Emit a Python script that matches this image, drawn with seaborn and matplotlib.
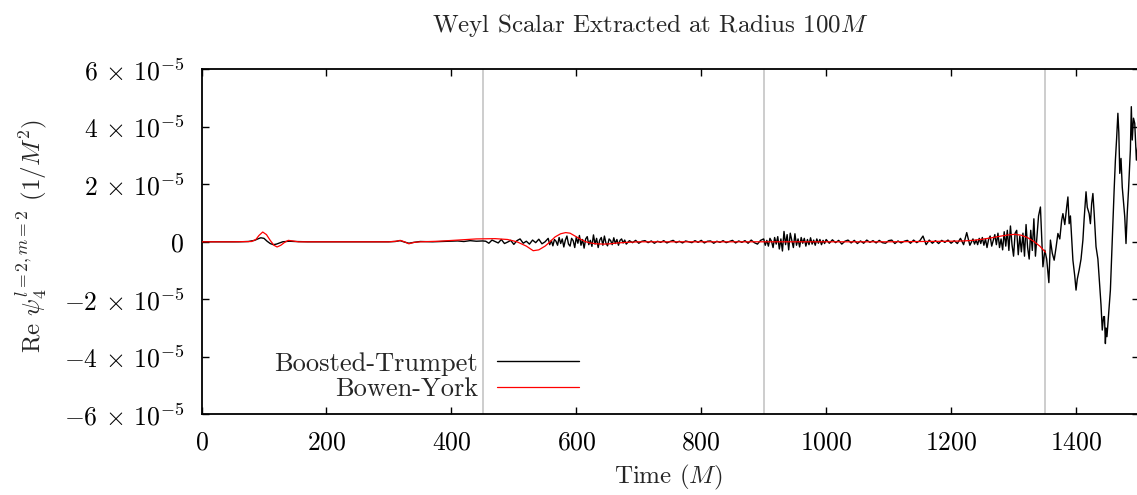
import numpy as np
import pandas as pd
import matplotlib
matplotlib.use("Agg")
import matplotlib.pyplot as plt
import seaborn as sns

# ---------------- data (values in units of 1e-5 / M^2) ----------------
bt_time_a = [0, 20, 40, 60, 75, 85, 90, 95, 100, 105, 110, 115, 120, 125, 130, 140, 150, 170,
             200, 250, 300, 310, 318, 325, 332, 340, 350, 370, 400, 410, 420, 430, 440, 450]
bt_val_a = [0, 0, 0, 0, 0.01, 0.05, 0.1, 0.14, 0.12, 0.02, -0.06, -0.1, -0.08, -0.04, 0, 0.02, 0.01, 0,
            0, 0, 0, 0.01, 0.04, -0.01, -0.05, -0.02, 0.01, 0, 0.02, 0.03, 0.01, 0.04, 0.02, 0.03]

bt_time_b1 = list(np.arange(455, 556, 5))
bt_val_b1 = [0.02, -0.05, 0.06, 0.01, -0.04, 0.08, -0.06, -0.01, 0.05, -0.09, 0.04,
             0.1, -0.05, 0.02, -0.08, 0.06, -0.03, 0.09, -0.07, 0.0, 0.12]

bt_time_b2 = list(np.arange(557.5, 681, 2.5))
bt_val_b2 = [-0.1, 0.05, -0.14, 0.08, 0.02, -0.12, 0.15, -0.06, 0.1, -0.18,
             0.06, 0.2, -0.08, -0.15, 0.12, 0.04, -0.2, 0.16, -0.05, 0.22,
             -0.12, 0.08, -0.22, 0.1, 0.18, -0.1, 0.05, -0.16, 0.24, -0.08,
             0.12, -0.2, 0.06, 0.15, -0.12, 0.2, -0.05, -0.14, 0.1, 0.04,
             -0.1, 0.14, -0.06, 0.08, -0.12, 0.05, 0.1, -0.04, 0.06, -0.08]

bt_time_b3 = list(np.arange(685, 901, 5))
bt_val_b3 = [0.04, -0.03, 0.05, -0.05, 0.02, 0.04, -0.03, 0.03, -0.05, 0.02,
             -0.02, 0.04, -0.04, 0.01, 0.05, -0.03, 0.02, -0.04, 0.03, 0.0,
             -0.03, 0.04, -0.02, 0.05, -0.04, 0.02, 0.03, -0.05, 0.02, -0.02,
             0.04, -0.03, 0.01, 0.05, -0.04, 0.03, -0.02, 0.04, -0.05, 0.06,
             -0.03, -0.08, 0.05, 0.1]

bt_time_c1 = list(np.arange(902.5, 1001, 2.5))
bt_val_c1 = [-0.12, 0.05, -0.15, 0.12, 0.02, -0.2, 0.15, -0.08, 0.18, -0.25,
             0.1, -0.32, 0.36, -0.1, 0.25, -0.28, 0.3, 0.05, -0.2, 0.28,
             -0.12, 0.1, -0.18, 0.15, -0.05, 0.12, -0.15, 0.08, -0.1, 0.14,
             -0.08, 0.06, -0.12, 0.1, -0.05, 0.08, -0.1, 0.05, -0.06, 0.08]

bt_time_c2 = list(np.arange(1005, 1236, 5))
bt_val_c2 = [-0.05, 0.07, -0.03, 0.05, -0.08, 0.02, 0.06, -0.04, 0.05, -0.06,
             0.03, -0.05, 0.06, -0.02, 0.04, -0.04, 0.05, -0.03, -0.05, 0.04,
             0.06, -0.06, 0.03, -0.04, 0.02, 0.05, -0.05, 0.06, -0.03, 0.04,
             0.2, -0.1, 0.06, -0.05, 0.04, -0.06, 0.05, -0.02, 0.06, -0.05,
             0.04, -0.06, 0.12, -0.1, 0.32, -0.12, 0.1]

bt_time_c3 = list(np.arange(1237.5, 1341, 2.5))
bt_val_c3 = [-0.08, 0.06, -0.1, 0.12, -0.06, 0.15, -0.12, 0.1, -0.2, 0.08,
             0.2, -0.15, 0.05, 0.25, -0.1, 0.3, -0.2, 0.1, -0.28, 0.35,
             -0.15, 0.4, -0.3, 0.55, -0.1, -0.5, 0.3, 0.4, -0.45, 0.2,
             -0.35, 0.3, -0.5, 0.6, -0.2, -0.6, 0.4, -0.3, 0.8, -0.5,
             0.2, 0.9]

bt_time_d = [1343, 1347, 1350, 1353, 1356.5, 1359, 1362, 1365, 1368, 1371, 1374, 1377, 1379,
             1382, 1385, 1387, 1389, 1391, 1393, 1395, 1398, 1400, 1402, 1405, 1408, 1411,
             1413, 1416, 1418, 1421, 1423, 1425, 1427, 1429, 1432, 1435, 1437.6, 1440, 1442,
             1444, 1445.5, 1447, 1448, 1449.5, 1451, 1453, 1455, 1457, 1459, 1461, 1463, 1465,
             1467, 1468.5, 1470, 1472, 1474, 1476, 1478, 1480, 1482, 1484, 1487, 1488.5, 1490,
             1492, 1494, 1496.6, 1500]
bt_val_d = [1.21, -0.87, -0.29, -0.6, -1.42, 0.06, -0.4, -0.64, -0.2, 0.29, 0.1, 0.75, 0.98,
            0.6, 1.2, 1.56, 0.63, 0.9, 0.1, -0.64, -1.2, -1.68, -1.3, -0.98, -0.6, 0.06,
            0.8, 1.74, 1.2, 0.98, 0.63, 1.33, 1.68, 1.0, -0.17, -0.6, -1.45, -2.2, -3.07,
            -2.61, -2.6, -3.54, -3.0, -3.3, -2.85, -2.3, -1.68, -0.5, 0.63, 1.8, 2.84, 3.6,
            4.47, 3.8, 2.38, 2.9, 1.9, 1.4, 0.87, -0.06, 1.0, 1.8, 3.2, 4.7, 3.54,
            4.3, 4.12, 2.84, 3.6]

by_time = [0, 50, 80, 87, 92, 98, 104, 110, 116, 121, 127, 133, 139, 146, 155, 170, 200, 250,
           300, 312, 318, 325, 332, 340, 350, 380, 410, 440, 470, 490, 505, 520, 531, 540, 550,
           558, 566, 575, 583, 590, 598, 606, 614, 622, 632, 644, 654, 666, 680, 700, 750, 800,
           900, 1000, 1100, 1150, 1200, 1220, 1235, 1250, 1265, 1280, 1292, 1302, 1312, 1322,
           1332, 1342, 1351]
by_val = [0, 0, 0.01, 0.08, 0.22, 0.34, 0.25, 0.05, -0.12, -0.18, -0.12, -0.02, 0.05, 0.03, 0, 0,
          0, 0, 0, 0.02, 0.05, 0, -0.07, -0.02, 0, 0.02, 0.06, 0.1, 0.11, 0.08, 0, -0.15, -0.31,
          -0.28, -0.15, 0, 0.17, 0.28, 0.32, 0.3, 0.2, 0.1, 0.01, -0.04, -0.07, -0.08, -0.07,
          -0.04, -0.02, 0, 0, 0, 0, 0, 0, 0.01, 0.02, 0.03, 0.05, 0.09, 0.14, 0.2, 0.24, 0.26,
          0.23, 0.15, 0.02, -0.15, -0.36]

x_ticks = [0, 200, 400, 600, 800, 1000, 1200, 1400]
y_ticks = [-6, -4, -2, 0, 2, 4, 6]
y_tick_labels = [r"$-6\,\times\,10^{-5}$", r"$-4\,\times\,10^{-5}$", r"$-2\,\times\,10^{-5}$", r"$0$",
                 r"$2\,\times\,10^{-5}$", r"$4\,\times\,10^{-5}$", r"$6\,\times\,10^{-5}$"]
vlines = [450, 900, 1350]

bt_time = (bt_time_a + bt_time_b1 + bt_time_b2 + bt_time_b3 + bt_time_c1 + bt_time_c2
           + bt_time_c3 + bt_time_d)
bt_val = (bt_val_a + bt_val_b1 + bt_val_b2 + bt_val_b3 + bt_val_c1 + bt_val_c2
          + bt_val_c3 + bt_val_d)
bt = pd.DataFrame({"t": [float(t) for t in bt_time], "v": bt_val})
by = pd.DataFrame({"t": by_time, "v": by_val})

# ---------------- style ----------------
sns.set_style("ticks")
plt.rcParams["font.family"] = ["cmr10", "DejaVu Serif"]
plt.rcParams["mathtext.fontset"] = "cm"
plt.rcParams["axes.formatter.use_mathtext"] = True
plt.rcParams["axes.unicode_minus"] = False

fs = 18
fig = plt.figure(figsize=(11.37, 4.95), dpi=100)
ax = fig.add_axes([201.5 / 1137, 80.7 / 495, 937 / 1137, 345 / 495])

for v in vlines:
    ax.axvline(v, color="#c0c0c0", lw=1.1, zorder=1)

sns.lineplot(data=bt, x="t", y="v", ax=ax, color="black", lw=1.0, sort=False,
             estimator=None, label="Boosted-Trumpet", zorder=3)
sns.lineplot(data=by, x="t", y="v", ax=ax, color="#ff0000", lw=0.9, sort=False,
             estimator=None, label="Bowen-York", zorder=4)

ax.set_xlim(0, 1500)
ax.set_ylim(-6, 6)
ax.set_xticks(x_ticks)
ax.set_xticklabels([rf"${t}$" for t in x_ticks])
ax.set_yticks(y_ticks)
ax.set_yticklabels(y_tick_labels)
ax.tick_params(direction="in", top=True, right=True, length=5.3, width=1.0,
               labelsize=18.5, colors="black")
ax.tick_params(axis="y", pad=12.5)
ax.tick_params(axis="x", pad=12)
for s in ax.spines.values():
    s.set_linewidth(1.3)
    s.set_color("black")
ax.set_xlabel("")
ax.set_ylabel("")

leg = ax.legend(loc="center right", bbox_to_anchor=(0.403, 0.11), frameon=False,
                markerfirst=False, fontsize=19, handlelength=3.1, handletextpad=0.72,
                borderpad=0, borderaxespad=0, labelspacing=0.05)
for t in leg.get_texts():
    t.set_ha("right")

fig.text(650 / 1137, 1 - 32 / 495, r"Weyl Scalar Extracted at Radius $100M$",
         ha="center", va="baseline", fontsize=fs)
fig.text(668 / 1137, 1 - 483 / 495, r"Time $(M)$", ha="center", va="baseline", fontsize=fs)
fig.text(32 / 1137, 1 - 236.5 / 495, r"Re $\psi_4^{l=2,m=2}$ $(1/M^2)$", rotation=90,
         ha="center", va="center", fontsize=fs)

fig.savefig("out.png", dpi=100)
